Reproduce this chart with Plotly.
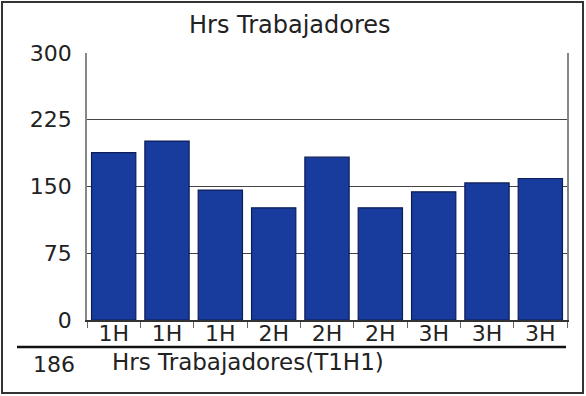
import plotly.graph_objects as go

categories = ["1H", "1H", "1H", "2H", "2H", "2H", "3H", "3H", "3H"]
values = [188, 201, 146, 126, 183, 126, 144, 154, 159]
y_ticks = [0, 75, 150, 225, 300]
title_text = "Hrs Trabajadores"
footer_value = "186"
footer_label = "Hrs Trabajadores(T1H1)"

W, H = 586, 396
L, R, T, B = 87, 19, 53, 76
pw, ph = W - L - R, H - T - B

def px(x):
    return (x - L) / pw

def py(y):
    return 1 - (y - T) / ph

FONT = "DejaVu Sans"
positions = list(range(len(categories)))

fig = go.Figure(go.Bar(
    x=positions, y=values,
    marker=dict(color="#173c9e", line=dict(color="#0d1d55", width=1.2)),
))

fig.update_layout(
    width=W, height=H,
    margin=dict(l=L, r=R, t=T, b=B),
    paper_bgcolor="white", plot_bgcolor="white",
    showlegend=False, bargap=0.17,
    font=dict(family=FONT, size=22, color="#222"),
    xaxis=dict(
        range=[-0.5, len(categories) - 0.5],
        tickvals=positions, ticktext=categories,
        ticks="", showgrid=False, zeroline=False,
        showline=True, linecolor="#333", linewidth=1.5, mirror=False,
        ticklabelstandoff=-7,
        tickfont=dict(family=FONT, size=22, color="#222"),
        minor=dict(ticks="outside", tick0=-0.5, dtick=1, ticklen=6,
                   tickcolor="#666", showgrid=False),
    ),
    yaxis=dict(
        range=[0, 300], tickvals=y_ticks,
        showgrid=True, gridcolor="#444", gridwidth=1,
        zeroline=False, showline=True, linecolor="#888", linewidth=1.5,
        mirror=True, ticks="", ticklabelstandoff=9,
        tickfont=dict(family=FONT, size=22, color="#222"),
    ),
    annotations=[
        dict(text=title_text, x=px(290), y=py(25), xref="paper", yref="paper",
             showarrow=False, xanchor="center", yanchor="middle",
             font=dict(family=FONT, size=24, color="#222")),
        dict(text=footer_value, x=px(77), y=py(364), xref="paper", yref="paper",
             showarrow=False, xanchor="right", yanchor="middle",
             font=dict(family=FONT, size=22, color="#222")),
        dict(text=footer_label, x=px(110), y=py(362), xref="paper", yref="paper",
             showarrow=False, xanchor="left", yanchor="middle",
             font=dict(family=FONT, size=23, color="#222")),
    ],
    shapes=[
        dict(type="line", xref="paper", yref="paper",
             x0=px(17), x1=px(566), y0=py(347), y1=py(347),
             line=dict(color="#111", width=2.5)),
        dict(type="rect", xref="paper", yref="paper",
             x0=px(2), x1=px(583), y0=py(2), y1=py(393),
             line=dict(color="#333", width=2)),
    ],
)

fig.write_html(
    "out.html",
    config={"displayModeBar": False},
    post_script="document.body.style.margin='0';document.body.style.overflow='hidden';",
)
